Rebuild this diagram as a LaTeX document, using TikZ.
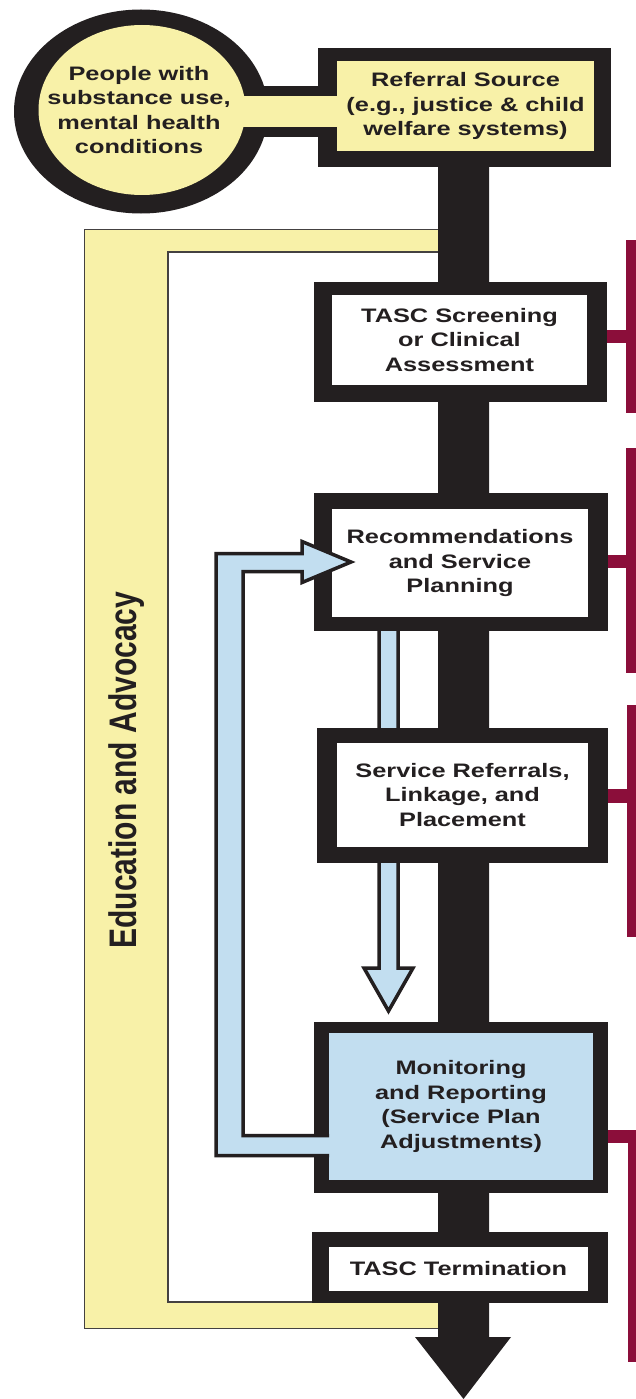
\documentclass[tikz,border=0pt]{standalone}
\usepackage{fontspec}
\usepackage{graphicx}
\setmainfont{Liberation Sans}
\newfontfamily\widefont[FakeStretch=1.3]{Liberation Sans}
\usetikzlibrary{calc}
\definecolor{ylw}{HTML}{F8F1A8}
\definecolor{lblue}{HTML}{C2DEF0}
\definecolor{maroon}{HTML}{8B0E3A}
\definecolor{ink}{HTML}{231F20}
\begin{document}
\begin{tikzpicture}[x=1pt,y=-1pt,
  lbl/.style={font=\widefont\bfseries\fontsize{19.5}{24.5}\selectfont, text=ink, align=center, inner sep=0pt},
  boxin/.style={lbl, fill=white},
  frame/.style={fill=ink},
  band/.style={fill=ylw, draw=ink!85, line width=1.2pt},
  bluearrow/.style={fill=lblue, draw=ink, line width=3.5pt, line join=miter},
  bar/.style={fill=maroon}]
\useasboundingbox (0,0) rectangle (636,1399);
\fill[white] (0,0) rectangle (636,1399);
% Education and Advocacy band
\filldraw[band] (439,229.5) -- (84.5,229.5) -- (84.5,1328.5) -- (439,1328.5) -- (439,1302) -- (168,1302) -- (168,252) -- (439,252) -- cycle;
% spine with arrow head
\coordinate (tip) at (463.5,1399);
\fill[ink] (438,160) -- (438,1337) -- (415,1337) -- (tip) -- (511,1337) -- (489,1337) -- (489,160) -- cycle;
% small blue down arrow
\filldraw[bluearrow] (379,625) -- (379,968) -- (364,968) -- (388.5,1011) -- (413,968) -- (398,968) -- (398,625);
% black frames
\fill[ink] (141,111.5) ellipse [x radius=127pt, y radius=102pt];
\fill[ink] (230,86) rectangle (325,137);
\fill[frame] (318,48) rectangle (611,167);
\fill[frame] (314,282) rectangle (607,402);
\fill[frame] (314,493) rectangle (608,631);
\fill[frame] (317,728) rectangle (608,863);
\fill[frame] (314,1022) rectangle (608,1193);
\fill[frame] (312,1232) rectangle (608,1303);
% yellow interiors
\fill[ylw] (142,110) ellipse [x radius=103.5pt, y radius=85pt];
\fill[ylw] (235,96) rectangle (340,127);
% nodes
\node[lbl] (people) at (139,110) {People with\\substance use,\\mental health\\conditions};
\node[lbl, fill=ylw, minimum width=257pt, minimum height=90pt] (ref) at (465.5,106) {Referral Source\\(e.g., justice \& child\\welfare systems)};
\node[boxin, minimum width=255pt, minimum height=90pt] (scr) at (459.5,340) {TASC Screening\\or Clinical\\Assessment};
\node[boxin, minimum width=256pt, minimum height=108pt] (rec) at (460,563) {Recommendations\\and Service\\Planning};
\node[boxin, minimum width=251pt, minimum height=104pt] (lnk) at (462.5,795) {Service Referrals,\\Linkage, and\\Placement};
\node[boxin, fill=lblue, minimum width=264pt, minimum height=147pt] (mon) at (461,1106.5) {Monitoring\\and Reporting\\(Service Plan\\Adjustments)};
\node[boxin, minimum width=259pt, minimum height=44pt] (term) at (458.5,1269) {TASC Termination};
% feedback loop arrow
\filldraw[bluearrow] (329,1155.5) -- (216,1155.5) -- (216,553.5) -- (302,553.5) -- (302,541.5) -- (351,562) -- (302,582.5) -- (302,571.5) -- (243,571.5) -- (243,1135.5) -- (329,1135.5);
% maroon brackets
\fill[bar] (626,240) rectangle (636,413);
\fill[bar] (607,330) rectangle (630,343);
\fill[bar] (626,448) rectangle (636,673);
\fill[bar] (608,555) rectangle (630,568);
\fill[bar] (627,705) rectangle (636,937);
\fill[bar] (608,789) rectangle (630,803);
\fill[bar] (608,1130) rectangle (636,1143);
\fill[bar] (628,1130) rectangle (636,1362);
% rotated label
\node[rotate=90, font=\bfseries\fontsize{30}{30}\selectfont, text=ink, inner sep=0pt] (edu) at (127,770) {\scalebox{1}[1.28]{Education and Advocacy}};
\end{tikzpicture}
\end{document}
